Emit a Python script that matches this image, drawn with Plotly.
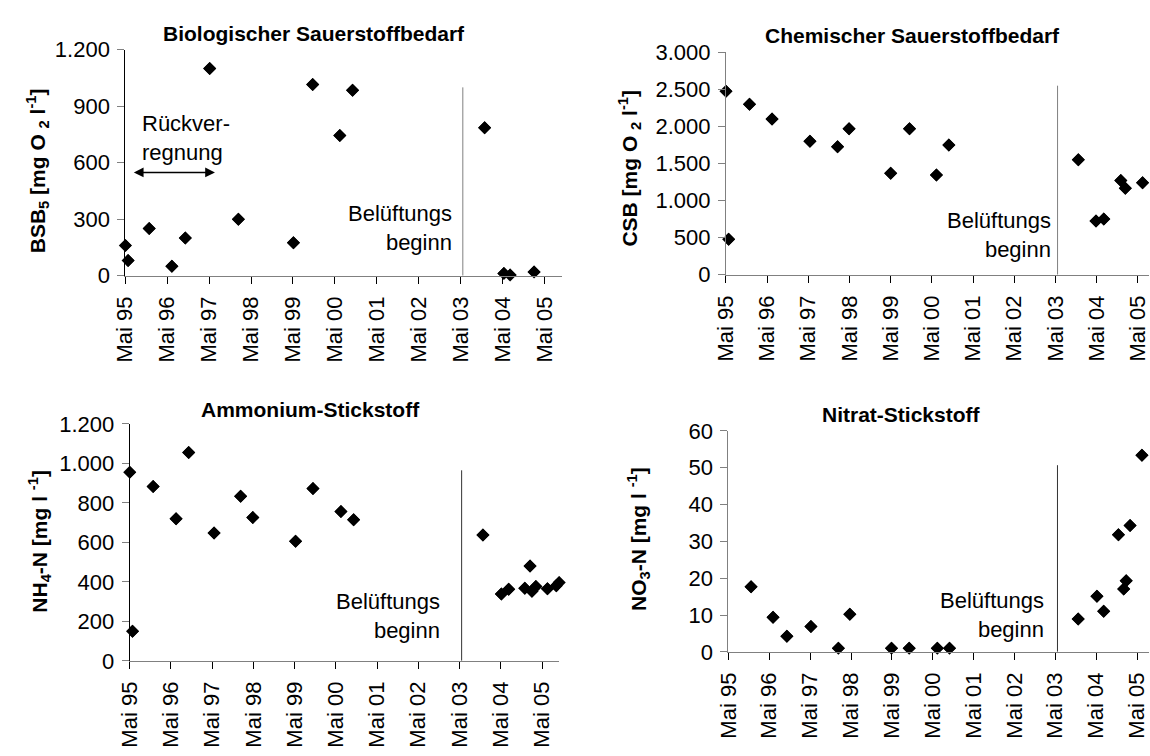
import plotly.graph_objects as go

FONT = "Liberation Sans, Arial, sans-serif"
W, H = 1150, 756

# ---------------- data ----------------
tick_dates = ["1995-05-01", "1996-05-01", "1997-05-01", "1998-05-01", "1999-05-01", "2000-05-01",
              "2001-05-01", "2002-05-01", "2003-05-01", "2004-05-01", "2005-05-01"]
tick_labels = ["Mai 95", "Mai 96", "Mai 97", "Mai 98", "Mai 99", "Mai 00",
               "Mai 01", "Mai 02", "Mai 03", "Mai 04", "Mai 05"]

bsb_dates = ["1995-05-01", "1995-05-25", "1995-11-25", "1996-06-10", "1996-10-05", "1997-05-05",
             "1998-01-10", "1999-05-05", "1999-10-20", "2000-06-12", "2000-10-01", "2003-11-26",
             "2004-05-12", "2004-07-05", "2005-01-30"]
bsb_vals = [160, 80, 250, 50, 200, 1100, 300, 175, 1015, 745, 985, 785, 12, 3, 20]

csb_dates = ["1995-05-01", "1995-05-25", "1995-11-26", "1996-06-13", "1997-05-15", "1998-01-15",
             "1998-04-27", "1999-05-01", "1999-10-15", "2000-06-10", "2000-09-28", "2003-11-20",
             "2004-04-25", "2004-07-03", "2004-12-01", "2005-01-10", "2005-06-12", "2005-09-01"]
csb_vals = [2475, 480, 2300, 2100, 1800, 1725, 1970, 1370, 1970, 1345, 1750, 1550,
            725, 750, 1270, 1165, 1240, 1380]

nh4_dates = ["1995-05-01", "1995-05-26", "1995-11-25", "1996-06-15", "1996-10-05", "1997-05-18",
             "1998-01-08", "1998-04-26", "1999-05-10", "1999-10-11", "2000-06-15", "2000-10-05",
             "2003-11-25", "2004-05-06", "2004-07-10", "2004-11-30", "2005-01-15", "2005-02-01",
             "2005-03-08", "2005-06-18", "2005-09-05", "2005-10-01"]
nh4_vals = [955, 150, 883, 720, 1055, 647, 833, 726, 606, 873, 756, 715,
            637, 338, 362, 368, 480, 352, 377, 365, 380, 397]

no3_dates = ["1995-11-20", "1996-06-03", "1996-10-05", "1997-05-08", "1998-01-08", "1998-04-20",
             "1999-04-28", "1999-10-03", "2000-06-10", "2000-09-27", "2003-11-21", "2004-05-07",
             "2004-07-06", "2004-11-15", "2005-01-01", "2005-01-23", "2005-02-27", "2005-06-13",
             "2005-09-01"]
no3_vals = [17.7, 9.4, 4.2, 6.9, 1.0, 10.2, 1.0, 1.0, 1.0, 1.0, 8.9, 15.1,
            11.0, 31.8, 17.1, 19.3, 34.3, 53.4, 31.3]

bsb_ticks = [0, 300, 600, 900, 1200]
bsb_ticktext = ["0", "300", "600", "900", "1.200"]
csb_ticks = [0, 500, 1000, 1500, 2000, 2500, 3000]
csb_ticktext = ["0", "500", "1.000", "1.500", "2.000", "2.500", "3.000"]
nh4_ticks = [0, 200, 400, 600, 800, 1000, 1200]
nh4_ticktext = ["0", "200", "400", "600", "800", "1.000", "1.200"]
no3_ticks = [0, 10, 20, 30, 40, 50, 60]
no3_ticktext = ["0", "10", "20", "30", "40", "50", "60"]

beginn_date = "2003-05-20"
beginn_tops = [1000, 2550, 965, 50.7]
arrow_start, arrow_end, arrow_level = "1995-06-05", "1997-06-20", 548

titles = ["Biologischer Sauerstoffbedarf", "Chemischer Sauerstoffbedarf",
          "Ammonium-Stickstoff", "Nitrat-Stickstoff"]
ytitles = ["BSB<sub>5</sub> [mg O <sub>2</sub> l<sup>-1</sup>]",
           "CSB [mg O <sub>2</sub> l<sup>-1</sup>]",
           "NH<sub>4</sub>-N [mg l <sup>-1</sup>]",
           "NO<sub>3</sub>-N [mg l <sup>-1</sup>]"]


def px(x):
    return x / W


def py(y):
    return 1 - y / H


panels = [
    dict(dates=bsb_dates, vals=bsb_vals, ticks=bsb_ticks, tt=bsb_ticktext, ymax=1200,
         xd=[px(113.7), px(555.5)], yd=[py(272.7), py(39)], xend="2005-09-28",
         ylc="black", vlc="#808080",
         title=(305, 22), ytitle=(25, 164), bel=(446.6, 223)),
    dict(dates=csb_dates, vals=csb_vals, ticks=csb_ticks, tt=csb_ticktext, ymax=3000,
         xd=[px(721.7), 1.0], yd=[py(271.7), py(41.7)], xend="2005-08-08",
         ylc="#808080", vlc="#808080",
         title=(911, 24), ytitle=(624.5, 161), bel=(1052.8, 231)),
    dict(dates=nh4_dates, vals=nh4_vals, ticks=nh4_ticks, tt=nh4_ticktext, ymax=1200,
         xd=[px(118.1), px(553)], yd=[py(671), py(426)], xend="2005-10-01",
         ylc="black", vlc="#333333",
         title=(300.7, 411), ytitle=(26.6, 547.5), bel=(434.5, 625)),
    dict(dates=no3_dates, vals=no3_vals, ticks=no3_ticks, tt=no3_ticktext, ymax=60,
         xd=[px(724.2), 1.0], yd=[py(661.7), py(433.3)], xend="2005-08-15",
         ylc="#808080", vlc="#333333",
         title=(899, 416), ytitle=(633.7, 545), bel=(1045.5, 623.5)),
]

fig = go.Figure()
annotations = []
shapes = []
layout = dict(
    width=W, height=H,
    margin=dict(l=0, r=0, t=0, b=0),
    paper_bgcolor="white", plot_bgcolor="white",
    showlegend=False,
    font=dict(family=FONT, size=22, color="black"),
)

for i, p in enumerate(panels):
    n = "" if i == 0 else str(i + 1)
    xa, ya = "x" + n, "y" + n
    # unclipped markers (points on the axes stay whole)
    fig.add_trace(go.Scatter(
        x=p["dates"], y=p["vals"], mode="markers", xaxis=xa, yaxis=ya,
        marker=dict(symbol="diamond", size=10, color="black", line=dict(width=0)),
        cliponaxis=False, hoverinfo="skip"))
    # clipped copy so markers just past the right edge show partially
    fig.add_trace(go.Scatter(
        x=p["dates"], y=p["vals"], mode="markers", xaxis=xa, yaxis=ya,
        marker=dict(symbol="diamond", size=10, color="black", line=dict(width=0)),
        cliponaxis=True, hoverinfo="skip"))
    layout["xaxis" + n] = dict(
        type="date", domain=p["xd"], range=["1995-05-01", p["xend"]], anchor=ya,
        tickmode="array", tickvals=tick_dates, ticktext=tick_labels, tickangle=-90,
        ticks="outside", ticklen=7, tickwidth=1, tickcolor="black",
        ticklabeloverflow="allow", ticklabelstandoff=4,
        showline=True, linecolor="#808080", linewidth=1,
        showgrid=False, zeroline=False,
        tickfont=dict(family=FONT, size=22, color="black"))
    layout["yaxis" + n] = dict(
        domain=p["yd"], range=[0, p["ymax"]], anchor=xa,
        tickmode="array", tickvals=p["ticks"], ticktext=p["tt"],
        ticks="outside", ticklen=7, tickwidth=1, tickcolor="#808080",
        ticklabelstandoff=3,
        showline=True, linecolor=p["ylc"], linewidth=1,
        showgrid=False, zeroline=False,
        tickfont=dict(family=FONT, size=22, color="black"))
    shapes.append(dict(type="line", xref=xa, yref=ya, x0=beginn_date, x1=beginn_date,
                       y0=0, y1=beginn_tops[i], line=dict(color=p["vlc"], width=1)))
    annotations.append(dict(
        xref="paper", yref="paper", x=px(p["title"][0]), y=py(p["title"][1]),
        text="<b>" + titles[i] + "</b>", showarrow=False, xanchor="center", yanchor="middle",
        font=dict(family=FONT, size=21, color="black")))
    annotations.append(dict(
        xref="paper", yref="paper", x=px(p["ytitle"][0]), y=py(p["ytitle"][1]),
        text="<b>" + ytitles[i] + "</b>", showarrow=False, textangle=-90,
        xanchor="center", yanchor="middle",
        font=dict(family=FONT, size=21, color="black")))
    annotations.append(dict(
        xref="paper", yref="paper", x=px(p["bel"][0]), y=py(p["bel"][1]),
        text="Belüftungs<br>beginn", showarrow=False, xanchor="right", yanchor="middle",
        align="right", font=dict(family=FONT, size=22, color="black")))

# Rückverregnung arrow and text
annotations.append(dict(
    xref="x", yref="y", x=arrow_end, y=arrow_level, axref="x", ayref="y",
    ax=arrow_start, ay=arrow_level, text=" ", showarrow=True,
    arrowhead=2, arrowside="end+start", arrowsize=1.3, arrowwidth=1.5,
    arrowcolor="black", standoff=0, startstandoff=0))
annotations.append(dict(
    xref="paper", yref="paper", x=px(128.3), y=py(130),
    text="Rückver-<br>regnung", showarrow=False, xanchor="left", yanchor="middle",
    align="left", font=dict(family=FONT, size=22, color="black")))

layout["annotations"] = annotations
layout["shapes"] = shapes
fig.update_layout(**layout)
fig.write_html("out.html")
